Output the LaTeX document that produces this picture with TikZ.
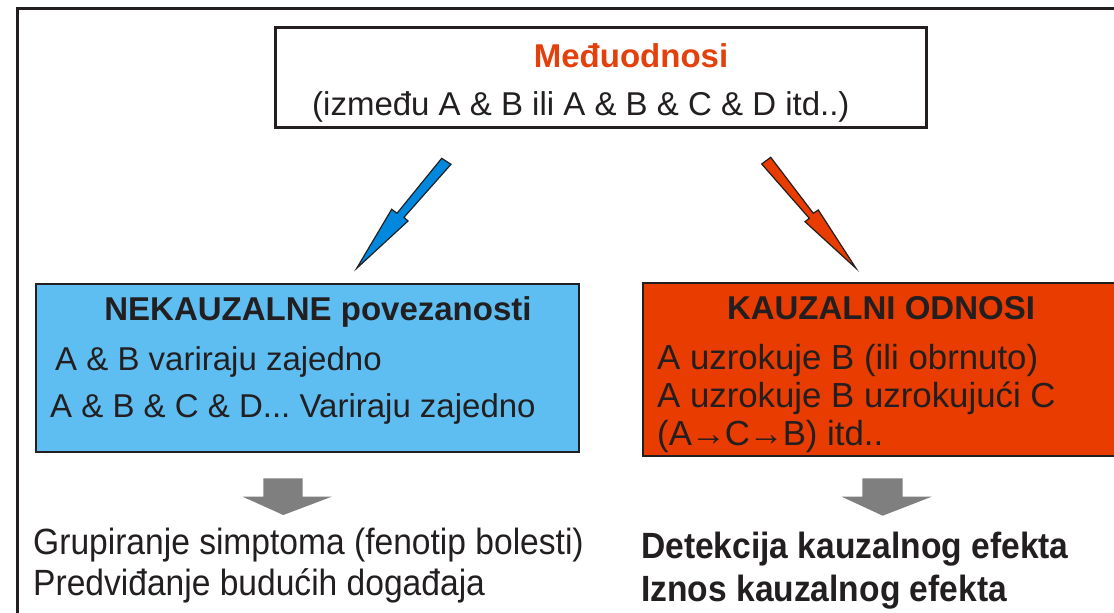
\documentclass[tikz,border=0pt]{standalone}
\usepackage{fontspec}
\setmainfont{Liberation Sans}
\newfontfamily\narrowfont[FakeStretch=0.92]{Liberation Sans}
\frenchspacing
\definecolor{ink}{HTML}{231F20}
\definecolor{boxblue}{HTML}{5EBEF2}
\definecolor{arrblue}{HTML}{0088DE}
\definecolor{boxred}{HTML}{E83C00}
\definecolor{titlered}{HTML}{E4400C}
\definecolor{arrgray}{HTML}{7F7F7F}
\tikzset{
  panel/.style={draw=ink, line width=2pt, anchor=north west, inner sep=0pt},
  txt/.style={anchor=base west, inner sep=0pt, text=ink, font=\fontsize{33}{38}\selectfont},
  ctxt/.style={anchor=base, inner sep=0pt, text=ink, font=\fontsize{33}{38}\selectfont\bfseries},
  btxt/.style={anchor=base west, inner sep=0pt, text=ink, font=\narrowfont\fontsize{36.5}{40}\selectfont},
  slant/.style={draw=ink, line width=1.2pt, line join=miter},
  block/.style={fill=arrgray, draw=none}
}
\begin{document}
\begin{tikzpicture}[x=1pt,y=-1pt]
\useasboundingbox (0,0) rectangle (1114,613);
\clip (0,0) rectangle (1114,613);
\fill[white] (0,0) rectangle (1114,613);
% outer frame
\draw[ink, line width=3pt] (17.5,640) -- (17.5,8.5) -- (1140,8.5);
% top box
\node[panel, line width=3pt, minimum width=651pt, minimum height=100pt] (top) at (274,26) {};
\node[ctxt, text=titlered] (t1) at (631,67) {Međuodnosi};
\node[txt] (t2) at (312,115) {(između A \& B ili A \& B \& C \& D itd..)};
% blue box
\node[panel, fill=boxblue, minimum width=543pt, minimum height=168pt] (nek) at (35,283) {};
\node[ctxt] (n0) at (318,320) {NEKAUZALNE povezanosti};
\node[txt] (n1) at (55,370) {A \& B variraju zajedno};
\node[txt] (n2) at (50,417) {A \& B \& C \& D... Variraju zajedno};
% red box
\node[panel, fill=boxred, minimum width=478pt, minimum height=173pt] (kau) at (642,282) {};
\node[ctxt] (k0) at (881,319) {KAUZALNI ODNOSI};
\node[txt, font=\fontsize{34.8}{40}\selectfont] (k1) at (657,369) {A uzrokuje B (ili obrnuto)};
\node[txt, font=\fontsize{34.8}{40}\selectfont] (k2) at (657,407) {A uzrokuje B uzrokujući C};
\node[txt, font=\fontsize{34.8}{40}\selectfont] (k3) at (657,445) {(A\kern-1pt→\kern-1ptC\kern-1pt→\kern-1ptB) itd..};
% slanted arrows
\draw[slant, fill=arrblue] (441.7,158.3) -- (397,213.3) -- (391.7,209.3) -- (356.7,268.3) -- (408,221) -- (404,217.3) -- (451,164.3) -- cycle;
\draw[slant, fill=boxred] (770.7,157.3) -- (813.3,213.3) -- (818.3,210) -- (856,268.3) -- (805,221.7) -- (809.3,218.3) -- (761.7,164) -- cycle;
% gray arrows
\fill[block] (263.3,478.3) -- (302.7,478.3) -- (302.7,496.7) -- (331.7,496.7) -- (283.3,515) -- (242.7,496.7) -- (263.3,496.7) -- cycle;
\fill[block] (862.3,478.3) -- (902.7,478.3) -- (902.7,496.7) -- (931.7,496.7) -- (882.7,515.7) -- (841.7,496.7) -- (862.3,496.7) -- cycle;
% bottom texts
\node[btxt] (g1) at (33,554) {Grupiranje simptoma (fenotip bolesti)};
\node[btxt] (g2) at (33,595) {Predviđanje budućih događaja};
\node[btxt, font=\narrowfont\fontsize{36.5}{40}\selectfont\bfseries] (d1) at (641,558) {Detekcija kauzalnog efekta};
\node[btxt, font=\narrowfont\fontsize{36.5}{40}\selectfont\bfseries] (d2) at (641,601) {Iznos kauzalnog efekta};
\end{tikzpicture}
\end{document}
